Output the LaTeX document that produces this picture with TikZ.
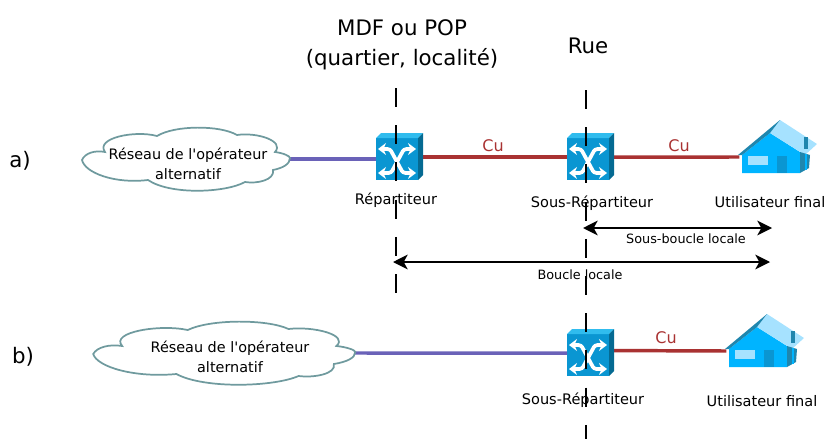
\documentclass[tikz,border=0pt]{standalone}
\usepackage{fontspec}
\setmainfont{DejaVu Sans}
\usetikzlibrary{arrows.meta}
\definecolor{culine}{HTML}{A93232}
\definecolor{altline}{HTML}{6A62B8}
\definecolor{cloudline}{HTML}{6F9A9E}
\definecolor{swfront}{HTML}{0A96D2}
\definecolor{swtop}{HTML}{30BCEE}
\definecolor{swside}{HTML}{056A92}
\definecolor{housewall}{HTML}{00B4FF}
\definecolor{houseroof}{HTML}{A6E2FF}
\definecolor{housedark}{HTML}{1F86AE}
\tikzset{
  cable/.style={line width=2.6pt},
  limit/.style={line width=2pt,dash pattern=on 14.25pt off 13.65pt},
  span/.style={line width=1.3pt,{Stealth[length=11pt,width=11pt,inset=3pt]}-{Stealth[length=11pt,width=11pt,inset=3pt]}},
  swbox/.style={draw=none,fill=swfront,minimum width=31.5pt,minimum height=31.5pt,inner sep=0pt,outer sep=0pt},
  homebox/.style={minimum width=1pt,minimum height=1pt,inner sep=0pt,outer sep=0pt},
  small/.style={font=\fontsize{10.9}{14}\selectfont,inner sep=0pt},
  note/.style={font=\fontsize{9.6}{12}\selectfont,inner sep=0pt},
  big/.style={font=\fontsize{16}{22.5}\selectfont,inner sep=0pt,align=center},
  cloudtext/.style={font=\fontsize{10.8}{14.5}\selectfont,inner sep=0pt,align=center},
  culabel/.style={font=\fontsize{12}{14}\selectfont,inner sep=0pt,text=culine},
  swarrow/.style={white,line width=2.8pt,rounded corners=2pt,{Stealth[length=6pt,width=9pt]}-{Stealth[length=6pt,width=9pt]}},
  pics/switchicon/.style={code={
    \fill[swtop] (-21,-21) -- (21,-21) -- (26,-26) -- (-16,-26) -- cycle;
    \fill[swside] (21,-21) -- (26,-26) -- (26,16) -- (21,21) -- cycle;
    \draw[swarrow] (-19,-10) -- (-7,-10) -- (6,14) -- (19,14);
    \draw[swarrow] (19,-10) -- (7,-10) -- (-6,14) -- (-19,14);
  }},
  pics/houseicon/.style={code={
    \fill[housewall] (2,-2) -- (30,-24) -- (60,-5) -- (60,16) -- (2,16) -- cycle;
    \fill[houseroof] (30,-24) -- (40,-37) -- (77,-13) -- (65,-2) -- cycle;
    \fill[housedark] (-2,-2) -- (40,-37) -- (30,-24) -- (2,-2) -- cycle;
    \fill[houseroof] (8,-1) rectangle (28,8);
    \fill[swfront] (37,-1) rectangle (47,16);
    \fill[housedark] (60,-5) -- (70,-2) -- (69,11) -- (60,16) -- cycle;
    \fill[housewall] (65,-3) rectangle (67,13);
    \fill[housedark] (64,-20) rectangle (68,-8);
  }},
}
\newcommand{\cloudshape}[2]{%
  \draw[cloudline,line width=1.3pt,fill=white,shift={#1},xscale=#2]
    (-103,2) .. controls (-100,-5) and (-90,-8) .. (-80,-6)
    .. controls (-90,-20) and (-50,-28) .. (-28,-22)
    .. controls (-10,-33) and (35,-33) .. (52,-23)
    .. controls (72,-26) and (100,-17) .. (90,-6)
    .. controls (98,-5) and (105,-2) .. (105,0)
    .. controls (105,6) and (98,10) .. (88,12)
    .. controls (90,22) and (72,26) .. (60,24)
    .. controls (40,35) and (-15,37) .. (-37,22)
    .. controls (-70,26) and (-100,15) .. (-103,2) -- cycle;
}
\begin{document}
\begin{tikzpicture}[x=0.75pt,y=-0.75pt]
    \useasboundingbox (0,0) rectangle (827,439);

    % Row a
    \coordinate (clouda) at (286,159);
    \node[swbox] (rep) at (397,159) {};
    \node[swbox] (sousa) at (588,159) {};
    \node[homebox] (homea) at (740,157) {};
    \draw[cable,altline] (clouda) -- (rep);
    \draw[cable,culine] (rep.5) -- (sousa.175);
    \draw[cable,culine] (sousa.5) -- (homea);
    \cloudshape{(185,158)}{1}
    \pic at (rep) {switchicon};
    \pic at (sousa) {switchicon};
    \pic at (homea) {houseicon};

    % Row b
    \coordinate (cloudb) at (353,353);
    \node[swbox] (sousb) at (588,355) {};
    \node[homebox] (homeb) at (727,351) {};
    \draw[cable,altline] (cloudb) -- (sousb.175);
    \draw[cable,culine] (sousb.12) -- (homeb);
    \cloudshape{(223,352)}{1.26}
    \pic at (sousb) {switchicon};
    \pic at (homeb) {houseicon};

    % Dashed limits
    \coordinate (mdftop) at (396,88);
    \coordinate (mdfbot) at (396,293);
    \coordinate (ruetop) at (586,90);
    \coordinate (ruebot) at (586,439);
    \draw[limit] (mdftop) -- (mdfbot);
    \draw[limit] (ruetop) -- (ruebot);

    % Spans
    \coordinate (sbl) at (583,228);
    \coordinate (sbr) at (772,228);
    \coordinate (bl) at (393,262);
    \coordinate (br) at (770,262);
    \draw[span] (sbl) -- (sbr);
    \draw[span] (bl) -- (br);

    % Labels
    \node[big] (mdf) at (402,45) {MDF ou POP\\(quartier, localité)};
    \node[big] (rue) at (588,46) {Rue};
    \node[big] (rowa) at (20,161) {a)};
    \node[big] (rowb) at (23,357) {b)};
    \node[cloudtext] (neta) at (188,164) {Réseau de l\textquotesingle opérateur\\alternatif};
    \node[cloudtext] (netb) at (230,357) {Réseau de l\textquotesingle opérateur\\alternatif};
    \node[culabel] (cua) at (493,146) {Cu};
    \node[culabel] (cub) at (679,146) {Cu};
    \node[culabel] (cuc) at (666,338) {Cu};
    \node[small] (nrep) at (396,200) {Répartiteur};
    \node[small] (nsousa) at (592,203) {Sous-Répartiteur};
    \node[small] (nhomea) at (770,202) {Utilisateur final};
    \node[small] (nsousb) at (583,400) {Sous-Répartiteur};
    \node[small] (nhomeb) at (762,401) {Utilisateur final};
    \node[note] (nsbl) at (686,239) {Sous-boucle locale};
    \node[note] (nbl) at (580,275) {Boucle locale};
\end{tikzpicture}
\end{document}
